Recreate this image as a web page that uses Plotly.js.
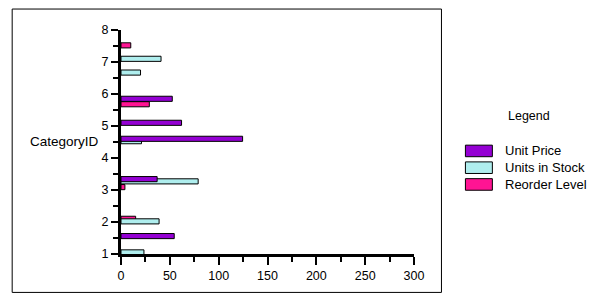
<!DOCTYPE html>
<html>
<head>
<meta charset="utf-8">
<script src="https://cdn.plot.ly/plotly-3.0.1.min.js"></script>
<style>
  html, body { margin: 0; padding: 0; background: #ffffff; }
  #chart { width: 602px; height: 300px; }
</style>
</head>
<body>
<div id="chart"></div>
<script>
// ---- data ----
const seriesNames = ["Unit Price", "Units in Stock", "Reorder Level"];
const seriesColors = ["#9400D3", "#AFEEEE", "#FF1493"];

const unitPriceY = [1.56, 3.34, 4.60, 5.10, 5.85];
const unitPrice  = [54.5, 37, 124.5, 62, 52.5];

const unitsInStockY = [1.05, 2.02, 3.27, 4.525, 6.67, 7.10];
const unitsInStock  = [23.5, 39, 79, 21, 20, 41];

const reorderLevelY = [2.10, 3.09, 5.68, 7.52];
const reorderLevel  = [15, 4, 29, 10];

const yTitle = "CategoryID";
const legendTitle = "Legend";

// ---- layout helpers (pixel -> paper) ----
const L = 121, T = 30, W = 293.5, H = 224.5;
const px = x => (x - L) / W;
const py = y => 1 - (y - T) / H;

const FONT = '"Liberation Sans", Arial, sans-serif';
const BAR_W = 0.16;

function barTrace(name, color, xs, ys) {
  return {
    type: 'bar', orientation: 'h', name: name,
    x: xs, y: ys, width: BAR_W,
    marker: { color: color, line: { color: '#000000', width: 1 } },
    showlegend: false, hoverinfo: 'x+y+name'
  };
}

// draw order: Reorder Level first, then Units in Stock, then Unit Price on top
const data = [
  barTrace(seriesNames[2], seriesColors[2], reorderLevel, reorderLevelY),
  barTrace(seriesNames[1], seriesColors[1], unitsInStock, unitsInStockY),
  barTrace(seriesNames[0], seriesColors[0], unitPrice, unitPriceY)
];

const shapes = [
  { type: 'rect', xref: 'paper', yref: 'paper',
    x0: px(12), x1: px(442), y0: py(9), y1: py(293),
    line: { color: '#000000', width: 1 }, fillcolor: 'rgba(0,0,0,0)', layer: 'below' }
];
const annotations = [
  { xref: 'paper', yref: 'paper', x: px(64), y: py(142), text: yTitle,
    showarrow: false, xanchor: 'center', yanchor: 'middle',
    font: { family: FONT, size: 13.5, color: '#000000' } },
  { xref: 'paper', yref: 'paper', x: px(530), y: py(116), text: legendTitle,
    showarrow: false, xanchor: 'center', yanchor: 'middle',
    font: { family: FONT, size: 12.5, color: '#000000' } }
];
const legendY = [151.2, 168, 184.8];
seriesNames.forEach((n, i) => {
  const cy = legendY[i];
  shapes.push({ type: 'rect', xref: 'paper', yref: 'paper',
    x0: px(466), x1: px(493), y0: py(cy - 5.8), y1: py(cy + 5.8),
    fillcolor: seriesColors[i], line: { color: '#000000', width: 1 } });
  annotations.push({ xref: 'paper', yref: 'paper', x: px(504), y: py(cy), text: n,
    showarrow: false, xanchor: 'left', yanchor: 'middle',
    font: { family: FONT, size: 13, color: '#000000' } });
});

const layout = {
  width: 602, height: 300,
  margin: { l: L, r: 602 - L - W, t: T, b: 300 - T - H, pad: 0 },
  paper_bgcolor: '#ffffff', plot_bgcolor: '#ffffff',
  barmode: 'overlay',
  showlegend: false,
  font: { family: FONT, size: 12, color: '#000000' },
  xaxis: {
    range: [0, 300], tickmode: 'linear', tick0: 0, dtick: 50,
    showgrid: false, zeroline: false,
    showline: true, linecolor: '#000000', linewidth: 3,
    ticks: 'outside', ticklen: 8, tickwidth: 2, tickcolor: '#000000',
    minor: { tickmode: 'linear', tick0: 0, dtick: 25, ticks: 'outside', ticklen: 5, tickwidth: 2, tickcolor: '#000000', showgrid: false },
    tickfont: { family: FONT, size: 12.5, color: '#000000' },
    fixedrange: true
  },
  yaxis: {
    range: [1, 8], tickmode: 'linear', tick0: 1, dtick: 1,
    showgrid: false, zeroline: false,
    showline: true, linecolor: '#000000', linewidth: 3,
    ticks: 'outside', ticklen: 7, tickwidth: 2, tickcolor: '#000000',
    minor: { tickmode: 'linear', tick0: 1, dtick: 0.5, ticks: 'outside', ticklen: 5, tickwidth: 2, tickcolor: '#000000', showgrid: false },
    tickfont: { family: FONT, size: 12.5, color: '#000000' },
    fixedrange: true
  },
  shapes: shapes,
  annotations: annotations
};

Plotly.newPlot('chart', data, layout, { displayModeBar: false, staticPlot: true });
</script>
</body>
</html>
